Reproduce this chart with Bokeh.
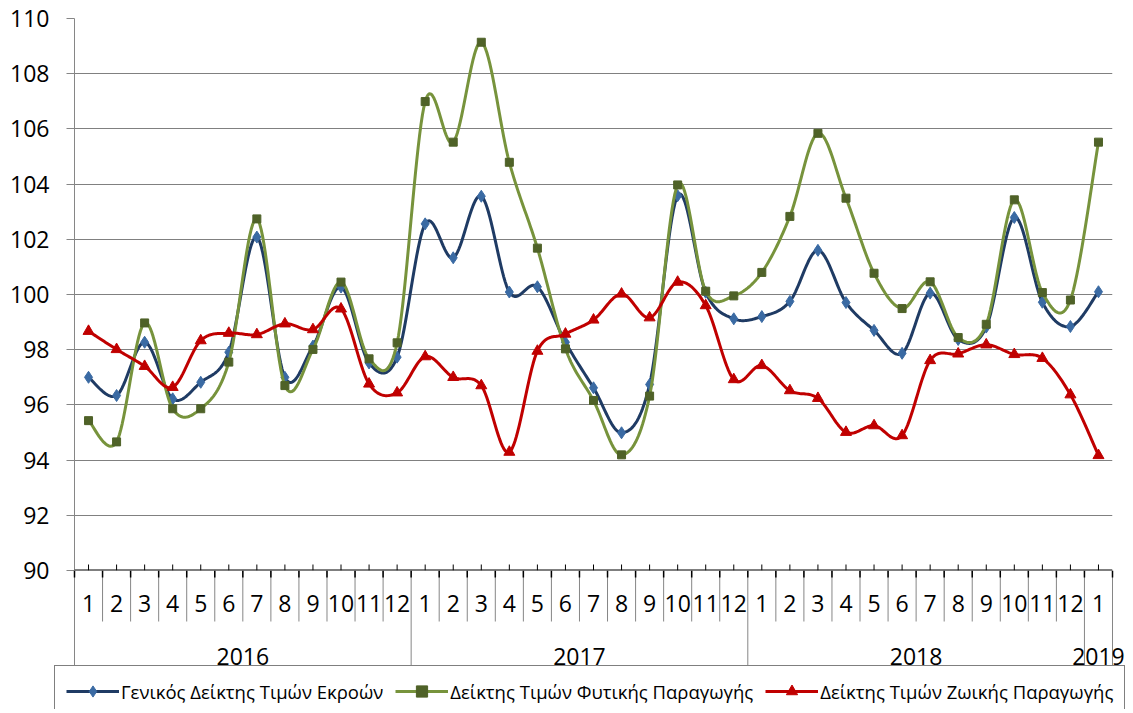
import numpy as np
from bokeh.plotting import figure
from bokeh.models import Range1d, FixedTicker, Span, Legend, LegendItem
from bokeh.core.properties import value
from bokeh.embed import file_html
from bokeh.resources import INLINE

# ---------------- data ----------------
month_labels = ["1", "2", "3", "4", "5", "6", "7", "8", "9", "10", "11", "12",
                "1", "2", "3", "4", "5", "6", "7", "8", "9", "10", "11", "12",
                "1", "2", "3", "4", "5", "6", "7", "8", "9", "10", "11", "12",
                "1"]
year_labels = ["2016", "2017", "2018", "2019"]
year_month_counts = [12, 12, 12, 1]

general_index = [97.00, 96.34, 98.27, 96.22, 96.82, 97.91, 102.08, 97.00, 98.13, 100.27, 97.52, 97.73,
                 102.56, 101.33, 103.56, 100.09, 100.28, 98.27, 96.62, 94.99, 96.74, 103.58, 100.08, 99.12,
                 99.20, 99.75, 101.60, 99.71, 98.70, 97.87, 100.05, 98.37, 98.82, 102.79, 99.72, 98.84,
                 100.10]
crop_index = [95.43, 94.66, 98.97, 95.86, 95.86, 97.55, 102.74, 96.70, 98.01, 100.45, 97.67, 98.25,
              106.99, 105.52, 109.14, 104.79, 101.68, 98.03, 96.16, 94.19, 96.32, 103.97, 100.12, 99.95,
              100.80, 102.83, 105.84, 103.49, 100.77, 99.49, 100.46, 98.44, 98.92, 103.43, 100.07, 99.80,
              105.52]
animal_index = [98.67, 98.01, 97.40, 96.64, 98.33, 98.60, 98.55, 98.94, 98.73, 99.48, 96.76, 96.44,
                97.75, 97.00, 96.70, 94.29, 97.95, 98.57, 99.08, 100.02, 99.16, 100.45, 99.60, 96.92,
                97.43, 96.52, 96.24, 95.01, 95.25, 94.89, 97.61, 97.85, 98.18, 97.83, 97.69, 96.37,
                94.17]
series_names = ["Γενικός Δείκτης Τιμών Εκροών",
                "Δείκτης Τιμών Φυτικής Παραγωγής",
                "Δείκτης Τιμών Ζωικής Παραγωγής"]
y_ticks = list(range(90, 111, 2))

# ---------------- layout constants ----------------
FONT = "Open Sans"
W, H = 1129, 709
L, R, T = 74, 17, 18
FRAME_H = 552
BOT_H = H - T - FRAME_H       # table + legend area below the plot frame
n = len(month_labels)
u = (W - L - R) / n           # pixels per category
y_min, y_max = y_ticks[0], y_ticks[-1]
units_per_px = (y_max - y_min) / FRAME_H
GRID = "#868686"


def smooth(vals, steps=20):
    """Excel-like smoothed line (Catmull-Rom as cubic Bezier)."""
    y = np.asarray(vals, dtype=float)
    x = np.arange(len(y), dtype=float)
    xs, ys = [], []
    m = len(y)
    for i in range(m - 1):
        a = i - 1 if i > 0 else i
        d = i + 2 if i + 2 < m else i + 1
        c1x = x[i] + (x[i + 1] - x[a]) / 6.0
        c1y = y[i] + (y[i + 1] - y[a]) / 6.0
        c2x = x[i + 1] - (x[d] - x[i]) / 6.0
        c2y = y[i + 1] - (y[d] - y[i]) / 6.0
        t = np.linspace(0, 1, steps, endpoint=(i == m - 2))
        b0 = (1 - t) ** 3
        b1 = 3 * (1 - t) ** 2 * t
        b2 = 3 * (1 - t) * t ** 2
        b3 = t ** 3
        xs.append(b0 * x[i] + b1 * c1x + b2 * c2x + b3 * x[i + 1])
        ys.append(b0 * y[i] + b1 * c1y + b2 * c2y + b3 * y[i + 1])
    return np.concatenate(xs), np.concatenate(ys)


styles = [
    dict(vals=general_index, line="#1F3B64", mark="#3A6AA3", marker="diamond", size=12),
    dict(vals=crop_index, line="#77933C", mark="#4F6228", marker="square", size=8),
    dict(vals=animal_index, line="#C00000", mark="#C00000", marker="triangle", size=11),
]

idx = np.arange(n)
bounds = np.arange(n + 1) - 0.5
year_edges = np.concatenate([[0], np.cumsum(year_month_counts)]) - 0.5
month_seps = [x for x in bounds if not np.any(np.isclose(year_edges, x))]
year_centres = (year_edges[:-1] + year_edges[1:]) / 2

# ---------------- main chart ----------------
p = figure(width=W, height=H, x_range=Range1d(-0.5, n - 0.5), y_range=Range1d(y_min, y_max),
           x_axis_location=None, toolbar_location=None, output_backend="svg",
           min_border_left=L, min_border_right=R, min_border_top=T, min_border_bottom=BOT_H)
p.outline_line_color = None
p.background_fill_color = "white"
p.border_fill_color = "white"

p.yaxis.ticker = FixedTicker(ticks=y_ticks)
p.yaxis.axis_line_color = GRID
p.yaxis.major_tick_line_color = GRID
p.yaxis.major_tick_out = 8
p.yaxis.major_tick_in = 0
p.yaxis.minor_tick_line_color = None
p.yaxis.major_label_text_font = FONT
p.yaxis.major_label_text_font_size = "23px"
p.yaxis.major_label_text_color = "black"
p.yaxis.major_label_standoff = 17
p.ygrid.ticker = FixedTicker(ticks=y_ticks)
p.ygrid.grid_line_color = "#808080"
p.ygrid.grid_line_width = 1
for g in p.xgrid:
    g.visible = False

# category axis baseline and small inner ticks at category centres
p.add_layout(Span(location=y_min, dimension="width", line_color="black", line_width=2))
p.segment(x0=idx, y0=np.full(n, y_min), x1=idx, y1=np.full(n, y_min + 6 * units_per_px),
          line_color="black", line_width=1)

for s in styles:
    sx, sy = smooth(s["vals"])
    p.line(sx, sy, line_color=s["line"], line_width=3, line_join="round", line_cap="round")
    p.scatter(idx, s["vals"], marker=s["marker"], size=s["size"],
              fill_color=s["mark"], line_color=s["mark"], line_width=1)

# ---------------- category table + legend (transparent overlay under the frame) ----------------
b = figure(width=W, height=BOT_H,
           x_range=Range1d(-0.5 - L / u, n - 0.5 + R / u), y_range=Range1d(BOT_H, 0),
           x_axis_location=None, y_axis_location=None, toolbar_location=None,
           output_backend="svg", min_border=0)
b.outline_line_color = None
b.background_fill_color = None
b.border_fill_color = None
for g in list(b.xgrid) + list(b.ygrid):
    g.visible = False
b.styles = {"margin-top": f"-{BOT_H}px"}

MONTH_SEP_LEN = 51
YEAR_SEP_LEN = 97
b.segment(x0=month_seps, y0=[0] * len(month_seps), x1=month_seps, y1=[MONTH_SEP_LEN] * len(month_seps),
          line_color=GRID, line_width=1)
b.segment(x0=year_edges, y0=[0] * len(year_edges), x1=year_edges, y1=[YEAR_SEP_LEN] * len(year_edges),
          line_color=GRID, line_width=1)
b.segment(x0=bounds, y0=[0] * len(bounds), x1=bounds, y1=[7] * len(bounds),
          line_color="black", line_width=1.5)

b.text(x=idx, y=[33] * n, text=month_labels, text_font=value(FONT), text_font_size=value("23px"),
       text_align="center", text_baseline="middle", text_color="black")
b.text(x=year_centres, y=[86] * len(year_labels), text=year_labels, text_font=value(FONT),
       text_font_size=value("23px"), text_align="center", text_baseline="middle", text_color="black")

items = []
for s, name in zip(styles, series_names):
    rl = b.line(np.array([np.nan]), np.array([np.nan]), line_color=s["line"], line_width=3)
    rm = b.scatter(np.array([np.nan]), np.array([np.nan]), marker=s["marker"],
                   fill_color=s["mark"], line_color=s["mark"])
    items.append(LegendItem(label=name, renderers=[rl, rm]))

legend = Legend(items=items, orientation="horizontal", location=(54, -8), padding=11, margin=0,
                spacing=12, glyph_width=53, glyph_height=28, label_standoff=2,
                label_text_font=FONT, label_text_font_size="18.5px", label_text_color="black",
                border_line_color="black", border_line_width=1,
                background_fill_color="white", background_fill_alpha=1.0)
b.add_layout(legend)

open("out.html", "w").write(file_html([p, b], INLINE))
